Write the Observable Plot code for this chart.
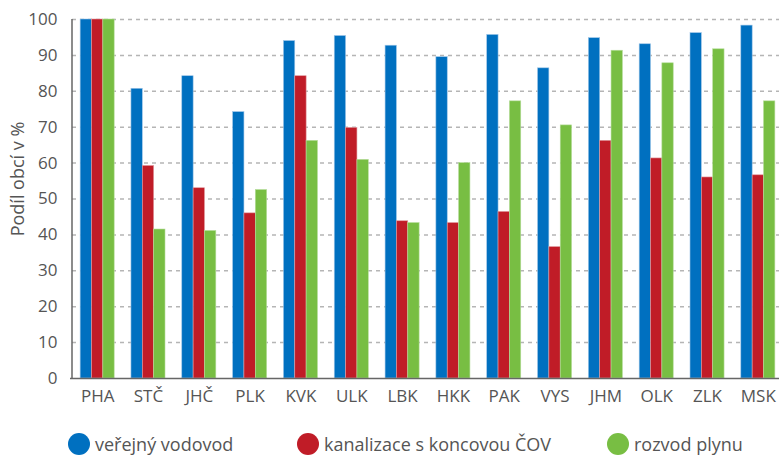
<!DOCTYPE html>
<html>
<head>
<meta charset="utf-8">
<script src="https://cdn.jsdelivr.net/npm/d3@7"></script>
<script src="https://cdn.jsdelivr.net/npm/@observablehq/plot@0.6"></script>
<style>
  html, body { margin: 0; padding: 0; background: #fff; }
  body { width: 779px; height: 459px; overflow: hidden; position: relative;
         font-family: "Open Sans", "Noto Sans", sans-serif; color: #555; }
  #legend { position: absolute; left: 0; top: 0; width: 779px; height: 459px; pointer-events: none; }
  .item { position: absolute; top: 433px; display: flex; align-items: center; white-space: nowrap;
          font-size: 18px; line-height: 22px; color: #555; }
  .dot { width: 22px; height: 22px; border-radius: 50%; margin-right: 5px; flex: none; }
</style>
</head>
<body>
<div id="chart"></div>
<div id="legend"></div>
<script>
const regions = ["PHA", "STČ", "JHČ", "PLK", "KVK", "ULK", "LBK", "HKK", "PAK", "VYS", "JHM", "OLK", "ZLK", "MSK"];
const seriesNames = ["veřejný vodovod", "kanalizace s koncovou ČOV", "rozvod plynu"];
const vodovod   = [100, 80.7, 84.2, 74.2, 94.0, 95.4, 92.7, 89.5, 95.7, 86.4, 94.8, 93.1, 96.2, 98.3];
const kanalizace = [100, 59.2, 53.0, 46.0, 84.2, 69.8, 43.8, 43.3, 46.4, 36.6, 66.2, 61.3, 56.0, 56.6];
const plyn      = [100, 41.5, 41.1, 52.5, 66.2, 60.9, 43.3, 60.0, 77.2, 70.5, 91.3, 87.8, 91.7, 77.2];
const colors = ["#0070c0", "#c01c27", "#78be43"];
const yTicks = [0, 10, 20, 30, 40, 50, 60, 70, 80, 90, 100];
const yLabel = "Podíl obcí v %";

const data = regions.map((r, i) => ({region: r, v: vodovod[i], k: kanalizace[i], p: plyn[i]}));

const xOpts = {type: "band", domain: regions, range: [72, 783], paddingInner: 0.33, paddingOuter: 0.16, round: false};
const bw = Plot.scale({x: xOpts}).bandwidth;
const third = bw / 3;

const font = '"Open Sans", "Noto Sans", sans-serif';

const chart = Plot.plot({
  width: 779,
  height: 420,
  marginLeft: 72,
  marginRight: 0,
  marginTop: 19,
  marginBottom: 42,
  style: {fontFamily: font, fontSize: "17px", color: "#555", background: "#fff"},
  x: {...xOpts, label: null},
  y: {domain: [0, 100], label: null},
  marks: [
    Plot.ruleY(yTicks.filter(d => d > 0), {stroke: "#b5b5b5", strokeWidth: 1.5, strokeDasharray: "4,4"}),
    Plot.barY(data, {x: "region", y: "v", fill: colors[0], insetLeft: 0, insetRight: 2 * third,
      stroke: "#9fc6e8", strokeWidth: 0.6}),
    Plot.barY(data, {x: "region", y: "k", fill: colors[1], insetLeft: third, insetRight: third,
      stroke: "#e09a9f", strokeWidth: 0.6}),
    Plot.barY(data, {x: "region", y: "p", fill: colors[2], insetLeft: 2 * third, insetRight: 0,
      stroke: "#b6dd9c", strokeWidth: 0.6}),
    Plot.axisY({ticks: yTicks, tickSize: 0, tickPadding: 15, label: null, fontSize: 17}),
    Plot.axisX({tickSize: 0, tickPadding: 11, label: null, fontSize: 17}),
    Plot.ruleY([0], {stroke: "#666", strokeWidth: 1.5, insetLeft: -2}),
    Plot.text([yLabel], {frameAnchor: "left", rotate: -90, dx: -54, dy: -20, textAnchor: "middle", fontSize: 18, fill: "#555"})
  ]
});
document.getElementById("chart").append(chart);

// left axis line
const svg = d3.select(chart);
svg.append("line")
  .attr("x1", 72).attr("x2", 72)
  .attr("y1", 19).attr("y2", 378)
  .attr("stroke", "#666").attr("stroke-width", 1.5);

const legendPos = [68, 297, 607];
const legend = document.getElementById("legend");
seriesNames.forEach((name, i) => {
  const item = document.createElement("div");
  item.className = "item";
  item.style.left = legendPos[i] + "px";
  const dot = document.createElement("span");
  dot.className = "dot";
  dot.style.background = colors[i];
  const label = document.createElement("span");
  label.textContent = name;
  item.append(dot, label);
  legend.append(item);
});
</script>
</body>
</html>
